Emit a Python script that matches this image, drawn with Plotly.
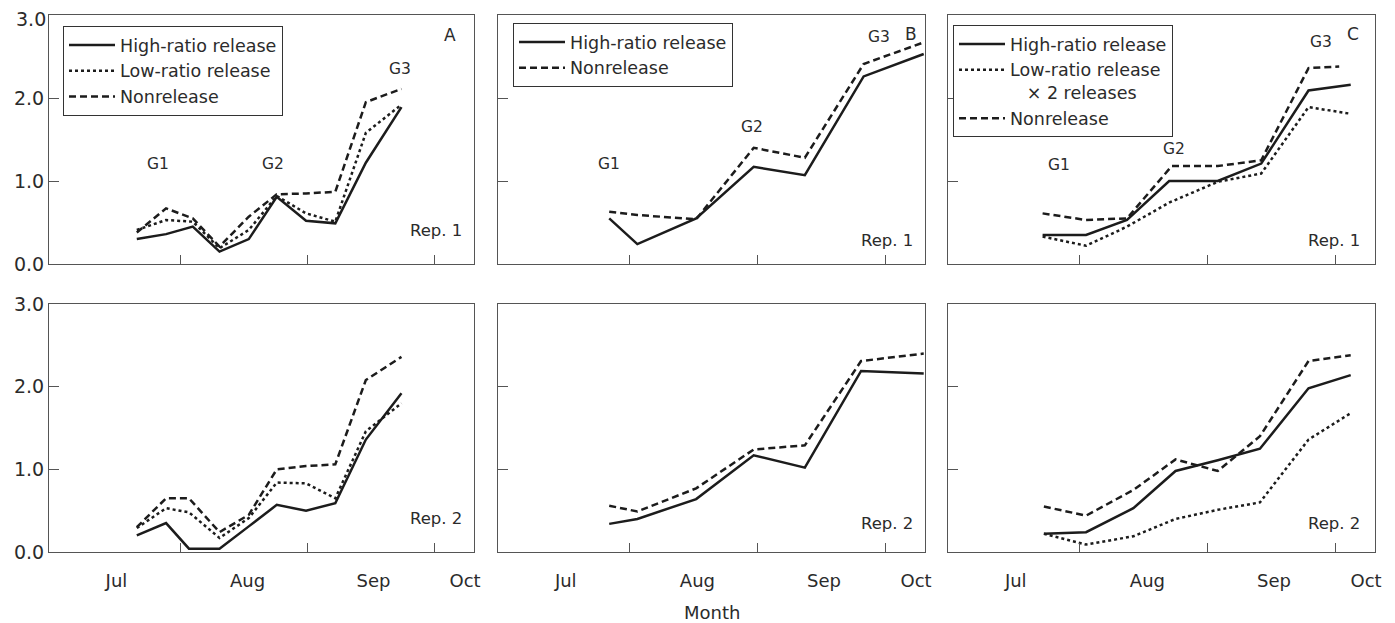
import plotly.graph_objects as go

# ---------------- data ----------------
month_labels = ["Jul", "Aug", "Sep", "Oct"]
month_label_pos = [0.5, 1.53, 2.52, 3.24]
month_bounds = [1, 2, 3]
y_ticks = [0, 1, 2, 3]
y_tick_labels = ["0.0", "1.0", "2.0", "3.0"]

# Panel A (Rep. 1 / Rep. 2)
a1_x = [0.66, 0.89, 1.10, 1.31, 1.54, 1.76, 1.99, 2.22, 2.46, 2.74]
a1_high = [0.30, 0.36, 0.45, 0.15, 0.30, 0.81, 0.52, 0.49, 1.22, 1.89]
a1_low = [0.41, 0.53, 0.51, 0.19, 0.41, 0.82, 0.61, 0.51, 1.58, 1.92]
a1_non = [0.38, 0.67, 0.55, 0.21, 0.57, 0.84, 0.85, 0.87, 1.95, 2.11]

a2_x = [0.66, 0.89, 1.07, 1.31, 1.54, 1.76, 1.99, 2.22, 2.46, 2.74]
a2_high = [0.20, 0.35, 0.04, 0.04, 0.31, 0.57, 0.50, 0.59, 1.36, 1.92]
a2_low = [0.29, 0.53, 0.48, 0.17, 0.41, 0.84, 0.83, 0.65, 1.46, 1.80]
a2_non = [0.30, 0.65, 0.65, 0.24, 0.45, 1.00, 1.04, 1.06, 2.08, 2.36]

# Panel B
b1_x = [0.84, 1.06, 1.52, 1.97, 2.37, 2.83, 3.30]
b1_high = [0.55, 0.24, 0.55, 1.17, 1.07, 2.26, 2.53]
b1_non = [0.63, 0.59, 0.54, 1.40, 1.28, 2.41, 2.67]

b2_x = [0.84, 1.06, 1.52, 1.97, 2.37, 2.81, 3.30]
b2_high = [0.34, 0.40, 0.64, 1.17, 1.02, 2.19, 2.16]
b2_non = [0.56, 0.49, 0.77, 1.24, 1.29, 2.31, 2.40]

# Panel C
c1_x = [0.71, 1.05, 1.37, 1.70, 2.08, 2.42, 2.79, 3.12]
c1_high = [0.35, 0.35, 0.53, 1.00, 1.00, 1.21, 2.09, 2.16]
c1_low = [0.33, 0.22, 0.45, 0.74, 0.99, 1.09, 1.89, 1.81]
c1_non_x = [0.71, 1.05, 1.37, 1.72, 2.08, 2.42, 2.79, 3.03]
c1_non = [0.61, 0.53, 0.55, 1.18, 1.18, 1.25, 2.36, 2.38]

c2_x = [0.72, 1.05, 1.42, 1.75, 2.08, 2.41, 2.79, 3.12]
c2_high = [0.22, 0.24, 0.53, 0.98, 1.11, 1.25, 1.98, 2.14]
c2_low = [0.22, 0.09, 0.19, 0.40, 0.51, 0.60, 1.36, 1.68]
c2_non = [0.55, 0.44, 0.75, 1.12, 0.98, 1.40, 2.31, 2.38]

# ---------------- styling ----------------
FONT = "DejaVu Sans, Liberation Sans, sans-serif"
TXT = "#2b2b2b"
LINE = "#1c1c1c"
FRAME = "#555555"
LW = 2.5

styles = {
    "High-ratio release": dict(color=LINE, width=LW, dash="solid"),
    "Low-ratio release": dict(color=LINE, width=LW, dash="dot"),
    "Nonrelease": dict(color=LINE, width=LW, dash="7px,4px"),
}

fig = go.Figure()


def add(xs, ys, name, axis_idx, legend=None, label=None):
    sfx = "" if axis_idx == 1 else str(axis_idx)
    fig.add_trace(go.Scatter(
        x=xs, y=ys, mode="lines", name=label or name,
        line=styles[name],
        xaxis="x" + sfx, yaxis="y" + sfx,
        showlegend=legend is not None,
        legend=legend if legend else "legend",
    ))


# top row
add(a1_x, a1_high, "High-ratio release", 1, "legend")
add(a1_x, a1_low, "Low-ratio release", 1, "legend")
add(a1_x, a1_non, "Nonrelease", 1, "legend")
add(b1_x, b1_high, "High-ratio release", 2, "legend2")
add(b1_x, b1_non, "Nonrelease", 2, "legend2")
add(c1_x, c1_high, "High-ratio release", 3, "legend3")
add(c1_x, c1_low, "Low-ratio release", 3, "legend3",
    label="Low-ratio release<br>\u00a0\u00a0\u00a0\u00d7 2 releases")
add(c1_non_x, c1_non, "Nonrelease", 3, "legend3")
# bottom row
add(a2_x, a2_high, "High-ratio release", 4)
add(a2_x, a2_low, "Low-ratio release", 4)
add(a2_x, a2_non, "Nonrelease", 4)
add(b2_x, b2_high, "High-ratio release", 5)
add(b2_x, b2_non, "Nonrelease", 5)
add(c2_x, c2_high, "High-ratio release", 6)
add(c2_x, c2_low, "Low-ratio release", 6)
add(c2_x, c2_non, "Nonrelease", 6)

# the page body adds an 8px offset; lay out in window pixels minus that
OFF = 8
W, H = 1395 - OFF, 623 - OFF
cols_px = [(49, 474), (498, 925), (948, 1375)]
rows_px = [(15, 264), (304, 552)]


def px_x(p):
    return (p - OFF) / W


def px_y(p):
    return 1 - (p - OFF) / H


layout = dict(
    width=W, height=H,
    margin=dict(l=0, r=0, t=0, b=0, autoexpand=False),
    paper_bgcolor="white", plot_bgcolor="white",
    font=dict(family=FONT, color=TXT, size=18),
)

for r, (yt, yb) in enumerate(rows_px):
    for c, (xl, xr) in enumerate(cols_px):
        idx = r * 3 + c + 1
        sfx = "" if idx == 1 else str(idx)
        layout["xaxis" + sfx] = dict(
            domain=[px_x(xl), px_x(xr)],
            range=[-0.03, 3.31],
            anchor="y" + sfx, automargin=False,
            showline=True, mirror=True, linecolor=FRAME, linewidth=1,
            showgrid=False, zeroline=False,
            tickmode="array", tickvals=month_label_pos, ticktext=month_labels,
            ticks="", showticklabels=(r == 1),
            ticklabelstandoff=12, ticklabeloverflow="allow",
            tickfont=dict(size=18, color=TXT),
            minor=dict(tickmode="array", tickvals=month_bounds, ticks="inside",
                       ticklen=9, tickwidth=1, tickcolor=FRAME, showgrid=False),
        )
        # top-left panel: the "3.0" label sits at the page edge, drawn below
        tv = y_ticks[:-1] if idx == 1 else y_ticks
        tt = y_tick_labels[:-1] if idx == 1 else y_tick_labels
        layout["yaxis" + sfx] = dict(
            domain=[px_y(yb), px_y(yt)],
            range=[0, 3.0],
            anchor="x" + sfx, automargin=False,
            showline=True, mirror=True, linecolor=FRAME, linewidth=1,
            showgrid=False, zeroline=False,
            tickmode="array", tickvals=tv, ticktext=tt,
            ticks="inside", ticklen=10, tickwidth=1, tickcolor=FRAME,
            showticklabels=(c == 0), ticklabeloverflow="allow",
            tickfont=dict(size=19, color=TXT),
        )

leg_common = dict(
    bgcolor="white", bordercolor="#333333", borderwidth=1,
    font=dict(size=17.5, family=FONT, color=TXT),
    xanchor="left", yanchor="top", tracegroupgap=0,
    itemwidth=46, valign="top",
)
layout["legend"] = dict(leg_common, x=px_x(63), y=px_y(26))
layout["legend2"] = dict(leg_common, x=px_x(513), y=px_y(23))
layout["legend3"] = dict(leg_common, x=px_x(953), y=px_y(25))

fig.update_layout(**layout)

# top tick label of the upper-left panel, nudged down so it is not clipped
fig.add_annotation(x=-0.03, y=y_ticks[-1], xref="x", yref="y",
                   text=y_tick_labels[-1], showarrow=False,
                   xanchor="right", yanchor="middle", xshift=-1, yshift=-4,
                   font=dict(size=19, color=TXT, family=FONT))

# annotations (labels inside panels)
ann = [
    # (axis idx, x, y, text, size)
    (1, 0.83, 1.2, "G1", 15.5), (1, 1.73, 1.2, "G2", 15.5), (1, 2.73, 2.35, "G3", 15.5),
    (1, 3.12, 2.76, "A", 17), (1, 3.01, 0.40, "Rep. 1", 16.5),
    (2, 0.84, 1.2, "G1", 15.5), (2, 1.96, 1.65, "G2", 15.5), (2, 2.95, 2.74, "G3", 15.5),
    (2, 3.20, 2.77, "B", 17), (2, 3.01, 0.28, "Rep. 1", 16.5),
    (3, 0.84, 1.19, "G1", 15.5), (3, 1.74, 1.38, "G2", 15.5), (3, 2.89, 2.68, "G3", 15.5),
    (3, 3.14, 2.77, "C", 17), (3, 2.99, 0.28, "Rep. 1", 16.5),
    (4, 3.01, 0.41, "Rep. 2", 16.5),
    (5, 3.01, 0.34, "Rep. 2", 16.5),
    (6, 2.99, 0.34, "Rep. 2", 16.5),
]
for idx, x, y, t, s in ann:
    sfx = "" if idx == 1 else str(idx)
    fig.add_annotation(x=x, y=y, xref="x" + sfx, yref="y" + sfx, text=t,
                       showarrow=False, font=dict(size=s, color=TXT, family=FONT))

fig.add_annotation(x=px_x(712), y=px_y(612), xref="paper", yref="paper",
                   text="Month", showarrow=False, yanchor="middle",
                   font=dict(size=18, color=TXT, family=FONT))

fig.write_html("out.html")
